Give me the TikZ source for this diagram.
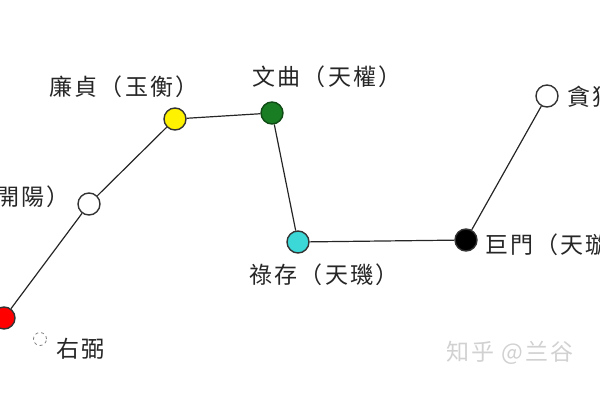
\documentclass[tikz,border=0pt]{standalone}
\usepackage{fontspec}
\newfontfamily\cjk[LetterSpace=9]{Noto Sans CJK TC}
\definecolor{starcyan}{RGB}{60,215,215}
\definecolor{stargreen}{RGB}{25,125,35}

\begin{document}
\begin{tikzpicture}[x=1pt, y=-1pt,
    star/.style={draw=black!80, circle, line width=1.4pt, minimum size=22pt, inner sep=0pt},
    starname/.style={font=\cjk\fontsize{23}{23}\selectfont, text=black!85, inner sep=0pt},
    link/.style={draw=black!85, line width=1.2pt}]
    \useasboundingbox (0,0) rectangle (600,400);
    \clip (0,0) rectangle (600,400);

    %% stars
    \draw
    (4,318)node[star, fill=red](pojun){}
    (89,204)node[star, fill=white](wuqu){}
    (175,119)node[star, fill=yellow](lianzhen){}
    (272,113)node[star, fill=stargreen, draw=stargreen!60!black](wenqu){}
    (298,242)node[star, fill=starcyan](lucun){}
    (466,240)node[star, fill=black](jumen){}
    (547,96)node[star, fill=white](tanlang){}
    (40,339)node[circle, draw=black!50, dashed, line width=0.8pt, minimum size=13pt, inner sep=0pt](youbi){}
    ;

    %% names
    \draw
    (124,87)node[starname](n1){廉貞（玉衡）}
    (327,77)node[starname](n2){文曲（天權）}
    (70,197)node[starname, anchor=east](n3){武曲（開陽）}
    (324,275)node[starname](n4){祿存（天璣）}
    (485,245)node[starname, anchor=west](n5){巨門（天璇）}
    (567,97)node[starname, anchor=west](n6){貪狼（天樞）}
    (56,349)node[starname, anchor=west](n7){右弼}
    (446,353)node[starname, anchor=west, text=black!18](mark){知乎 @兰谷}
    ;

    %% links
    \draw[link] (pojun) -- (wuqu);
    \draw[link] (wuqu) -- (lianzhen);
    \draw[link] (lianzhen) -- (wenqu);
    \draw[link] (wenqu) -- (lucun);
    \draw[link] (lucun) -- (jumen);
    \draw[link] (jumen) -- (tanlang);
\end{tikzpicture}
\end{document}
